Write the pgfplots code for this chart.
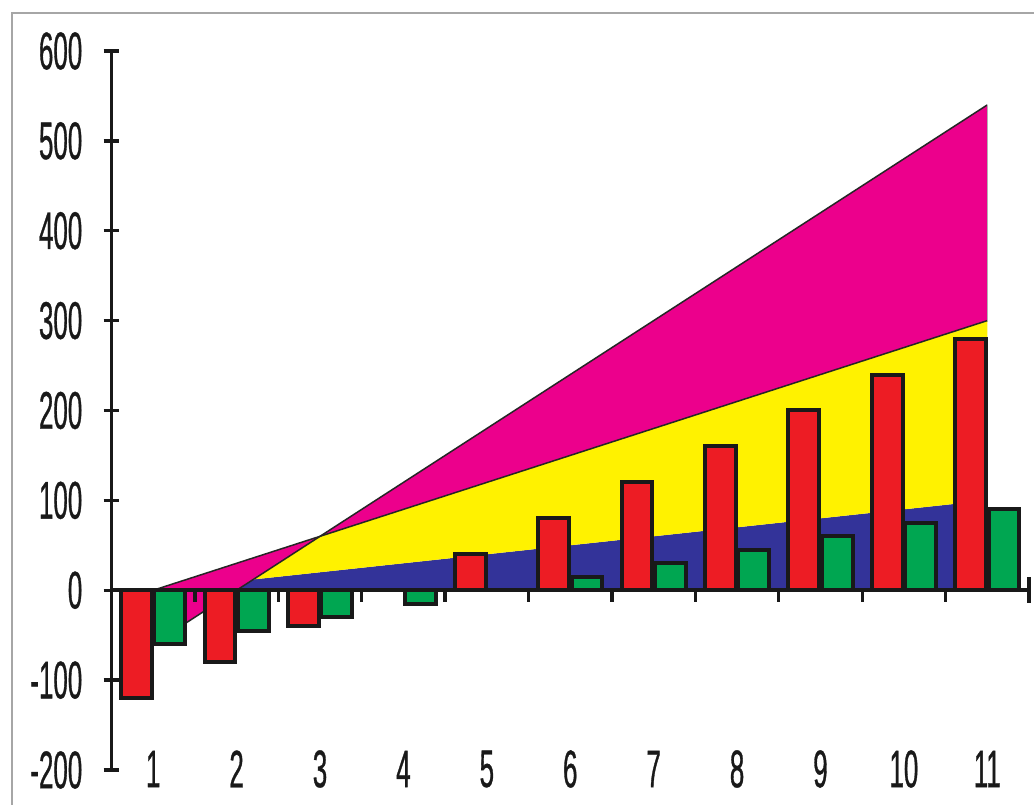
\documentclass[border=0pt]{standalone}
\usepackage{pgfplots}
\pgfplotsset{compat=1.18}
\usepackage{fontspec}
\setmainfont{Liberation Sans}
\newfontfamily\narrow{Liberation Sans}[FakeStretch=0.49, FakeBold=0.6]

\definecolor{cred}{HTML}{ED1C24}
\definecolor{cgreen}{HTML}{00A651}
\definecolor{cblue}{HTML}{333399}
\definecolor{cyellow}{HTML}{FFF200}
\definecolor{cmagenta}{HTML}{EC008C}

\begin{document}
\begin{tikzpicture}
\useasboundingbox (-111.5pt,-35pt) rectangle (922.5pt,770pt);
% outer frame (only left and top edges fall inside the picture)
\draw[black!35, line width=2pt] (-99.5pt,-60pt) -- (-99.5pt,757pt) -- (950pt,757pt);
\begin{axis}[
    scale only axis,
    width=917.5pt, height=719pt,
    xmin=0.5, xmax=11.5,
    ymin=-200, ymax=600,
    clip=false,
    axis lines*=left,
    x axis line style={draw=none},
    y axis line style={line width=3.3pt, black!90},
    xtick={1,2,3,4,5,6,7,8,9,10,11},
    xticklabels={1,2,3,4,5,6,7,8,9,10,11},
    xtick style={draw=none},
    ytick={-200,-100,0,100,200,300,400,500,600},
    yticklabels={-200,-100,0,100,200,300,400,500,600},
    ytick style={line width=3.3pt, black!90},
    tick align=center,
    major tick length=16pt,
    tick label style={font=\narrow\fontsize{53}{53}\selectfont, text=black!90},
    xticklabel style={anchor=center, inner sep=0pt, yshift=9pt},
    yticklabel style={anchor=east, inner sep=0pt, xshift=-21pt},
]
% stacked areas: blue (bottom), yellow, magenta (top, negative at the start)
\addplot[fill=cblue, draw=none] coordinates {(1,0) (11,100) (11,0)} -- cycle;
\addplot[fill=cyellow, draw=none] coordinates {(1,0) (11,300) (11,100)} -- cycle;
\addplot[fill=cmagenta, draw=none] coordinates {(1,0) (11,300) (11,540) (1,-60)} -- cycle;
\addplot[black!85, line width=1.5pt] coordinates {(1,0) (3,60) (5,120) (7,180) (9,240) (11,300)};
\addplot[black!85, line width=1.5pt] coordinates {(1,-60) (3,60) (5,180) (7,300) (9,420) (11,540)};
\addplot[black!30, line width=1pt] coordinates {(11,300) (11,540)};

% bars
\addplot[ybar, bar width=0.37, bar shift=-0.2, fill=cred, draw=black!90, line width=4pt]
  coordinates {(1,-120) (2,-80) (3,-40) (4,0) (5,40) (6,80) (7,120) (8,160) (9,200) (10,240) (11,280)};
\addplot[ybar, bar width=0.37, bar shift=0.2, fill=cgreen, draw=black!90, line width=4pt]
  coordinates {(1,-60) (2,-45) (3,-30) (4,-15) (5,0) (6,15) (7,30) (8,45) (9,60) (10,75) (11,90)};

% zero axis with category boundary ticks
\draw[black!90, line width=4pt] (axis cs:0.5,0) -- (axis cs:11.5,0);
\pgfplotsinvokeforeach{1.5,2.5,3.5,4.5,5.5,6.5,7.5,8.5,9.5,10.5}{
  \draw[black!90, line width=3.3pt] (axis cs:#1,0) -- ++(0pt,-12pt);
}
\draw[black!90, line width=3.3pt] (axis cs:11.5,0) ++(0pt,13pt) -- ++(0pt,-26pt);
\end{axis}
\end{tikzpicture}
\end{document}
